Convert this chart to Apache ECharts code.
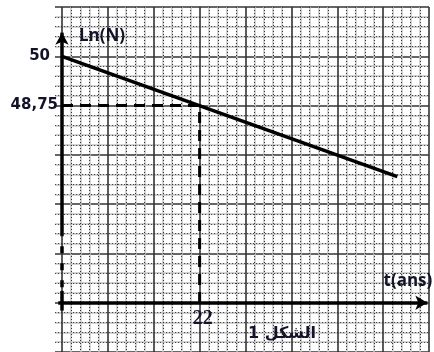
<!DOCTYPE html>
<html>
<head>
<meta charset="utf-8">
<script src="https://cdn.jsdelivr.net/npm/echarts@6/dist/echarts.min.js"></script>
<style>
html, body { margin: 0; padding: 0; background: #fff; }
#chart { width: 434px; height: 352px; }
</style>
</head>
<body>
<div id="chart"></div>
<script>
// droite Ln(N) = f(t)
const tValues = [0, 53.6];
const lnValues = [50, 46.95];
// point
const tRead = 22;
const lnRead = 48.75;
// papier millimétré : un grand carreau = 22/3 ans en t, 1,25 en Ln(N)
const tStep = 22 / 3;
const lnStep = 1.25;
const tRange = [-tStep, 8 * tStep];
const lnRange = [42.5, 51.25];
// axes dessinés à la main (l'axe des t est à Ln(N) = 43,75)
const lnAxisLevel = 43.75;
const tAxisSpan = [-0.6, 58.4];
const lnAxisTop = 50.6;
const lnAxisBreak = [45.46, 44.05];
const lnAxisBottom = 43.55;
const tickLabels = ['50', '48,75', '22'];

const ink = '#141428';
const chart = echarts.init(document.getElementById('chart'));

const majorLine = { show: true, lineStyle: { color: '#333', width: 1.6 } };
const dottedMinor = { show: true, lineStyle: { color: '#333', width: 1, type: [1, 2] } };
const greyMinor = { show: true, lineStyle: { color: '#c4c4c4', width: 1.5 } };

// deux couches d'axes : traits gris pleins + pointillés noirs
function gridAxis(range, step, minor, major) {
  return {
    type: 'value', min: range[0], max: range[1], interval: step,
    axisLine: { show: false }, axisTick: { show: false }, axisLabel: { show: false },
    splitLine: major ? majorLine : { show: false },
    minorTick: { show: false, splitNumber: 5 },
    minorSplitLine: minor
  };
}

chart.setOption({
  animation: false,
  backgroundColor: '#fff',
  grid: { left: 62 - 45.875, top: 7, width: 45.875 * 9, height: 49.67 * 7 },
  xAxis: [gridAxis(tRange, tStep, greyMinor, false), gridAxis(tRange, tStep, dottedMinor, true)],
  yAxis: [gridAxis(lnRange, lnStep, greyMinor, false), gridAxis(lnRange, lnStep, dottedMinor, true)],
  series: [
    {
      // droite
      type: 'line', z: 5, silent: true, symbol: 'none',
      lineStyle: { color: '#000', width: 3.5 },
      data: tValues.map((t, i) => [t, lnValues[i]])
    },
    {
      // pointillés de lecture
      type: 'line', z: 4, silent: true, symbol: 'none',
      lineStyle: { color: '#000', width: 3, type: [11, 7] },
      data: [[0, lnRead], [tRead, lnRead], [tRead, lnAxisLevel]]
    },
    {
      // axes
      type: 'line', z: 6, silent: true, symbol: 'none', data: [],
      markLine: {
        silent: true, symbol: 'none', label: { show: false },
        lineStyle: { color: '#000', width: 3.5, type: 'solid' },
        data: [
          [{ coord: [tAxisSpan[0], lnAxisLevel] },
           { coord: [tAxisSpan[1], lnAxisLevel], symbol: 'arrow', symbolSize: [11, 12] }],
          [{ coord: [0, lnAxisBreak[0]] },
           { coord: [0, lnAxisTop], symbol: 'arrow', symbolSize: [10, 12] }],
          [{ coord: [0, lnAxisBreak[1]] }, { coord: [0, lnAxisBottom] }],
          [{ coord: [0, lnAxisBreak[0]], lineStyle: { type: [7, 10], dashOffset: 6 } },
           { coord: [0, lnAxisBreak[1]] }]
        ]
      }
    }
  ]
});

const px = (t, v) => chart.convertToPixel({ gridIndex: 0 }, [t, v]);
const p50 = px(0, lnValues[0]);
const pRead = px(0, lnRead);
const p22 = px(tRead, lnAxisLevel);
const pTop = px(0, lnAxisTop);
const pEnd = px(tAxisSpan[1], lnAxisLevel);

const label = (x, y, text, font, align) => ({
  type: 'text', x: x, y: y, z: 20,
  style: { text: text, font: font, fill: ink, align: align || 'center', verticalAlign: 'middle' }
});

chart.setOption({
  graphic: [
    // marge blanche à gauche du papier
    { type: 'rect', z: 1, shape: { x: 0, y: 0, width: 55, height: 352 }, style: { fill: '#fff' } },
    label(p50[0] - 12, p50[1], tickLabels[0], 'bold 15px "DejaVu Sans"', 'right'),
    label(pRead[0] - 4, pRead[1], tickLabels[1], 'bold 15px "DejaVu Sans"', 'right'),
    label(p22[0] + 3, p22[1] + 16, tickLabels[2], 'bold 20px "Liberation Serif"'),
    label(pTop[0] + 17, pTop[1] + 4, 'Ln(N)', 'bold 17px "Open Sans"', 'left'),
    label(pEnd[0] + 5, pEnd[1] - 22, 't(ans)', 'bold 17px "Open Sans"', 'right'),
    label(282, 334, 'الشكل 1', 'bold 16px "DejaVu Sans"')
  ]
});
</script>
</body>
</html>
